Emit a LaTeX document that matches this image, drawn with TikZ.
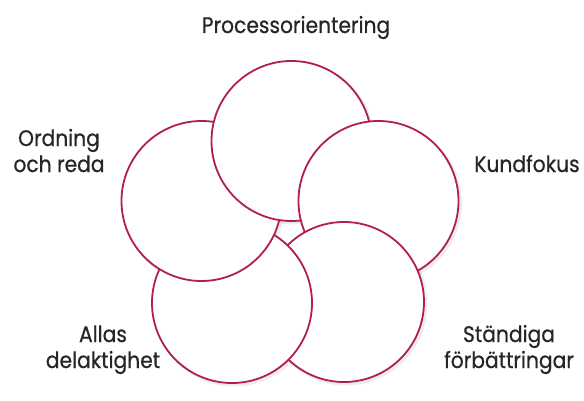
\documentclass[tikz,border=0pt]{standalone}
\usepackage{fontspec}
\setmainfont{Poppins}[FakeStretch=0.9, FakeBold=0.6]
\usetikzlibrary{shadows}
\definecolor{ring}{RGB}{176,32,72}
\tikzset{
  petal/.style={draw=ring, line width=1.8pt, fill=white},
  lbl/.style={font=\fontsize{22.5}{26}\selectfont, text=black!85, align=center, inner sep=0pt, anchor=base},
  x=1pt, y=-1pt
}
\begin{document}
\begin{tikzpicture}
\useasboundingbox (0,0) rectangle (584,401);
\coordinate (cL) at (201.5,201);
\coordinate (cT) at (291.5,141);
\coordinate (cR) at (378.5,201);
\coordinate (cBR) at (344,302);
\coordinate (cBL) at (232,303);
\def\rad{80pt}
% shadows
\foreach \c in {cL,cT,cR,cBR,cBL}
  \fill[black, opacity=0.07] ([shift={(2,2)}]\c) circle[radius=\rad+1.5pt];
\draw[petal] (cL) circle[radius=\rad];
\draw[petal] (cT) circle[radius=\rad];
\draw[petal] (cR) circle[radius=\rad];
\draw[petal] (cBR) circle[radius=\rad];
\draw[petal] (cBL) circle[radius=\rad];
\begin{scope}
  \clip (cBL) circle[radius=\rad+2pt];
  \draw[petal] (cL) circle[radius=\rad];
\end{scope}
\node[lbl] (t1) at (296,33) {Processorientering};
\node[lbl] (t2) at (59,172) {Ordning\\och reda};
\node[lbl] (t3) at (527,172) {Kundfokus};
\node[lbl] (t4) at (103,368) {Allas\\delaktighet};
\node[lbl] (t5) at (509,368) {Ständiga\\förbättringar};
\end{tikzpicture}
\end{document}
